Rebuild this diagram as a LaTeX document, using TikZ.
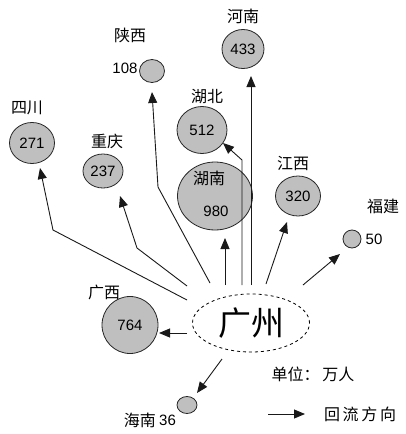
\documentclass[tikz,border=0pt]{standalone}
\usepackage{fontspec}
\setmainfont{Liberation Sans}
\newfontfamily\cjk{Noto Sans CJK SC}
\usetikzlibrary{shapes.geometric,arrows.meta}
\begin{document}
\begin{tikzpicture}[x=1pt,y=-1pt,
  city/.style={ellipse,draw=black!85,fill=gray!50,line width=0.8pt,inner sep=0pt,font=\fontsize{15}{15}\selectfont},
  lab/.style={font=\cjk\fontsize{16}{16}\selectfont,inner sep=0pt},
  num/.style={font=\fontsize{15}{15}\selectfont,inner sep=0pt},
  flow/.style={line width=0.9pt,draw=black!90,-{Triangle[length=11pt,width=9pt]}}]
\useasboundingbox (0,0) rectangle (406,434);
% cities
\node[city,minimum width=25,minimum height=23] (sx) at (152,71) {};
\node[lab] (sxl) at (130,35) {陕西};
\node[num] (sxn) at (125,68) {108};
\node[city,minimum width=42,minimum height=39] (hen) at (243,49) {433};
\node[lab] (henl) at (243,16) {河南};
\node[city,minimum width=45,minimum height=41] (sc) at (32,143) {271};
\node[lab] (scl) at (27,108) {四川};
\node[city,minimum width=40,minimum height=34] (cq) at (103,171) {237};
\node[lab] (cql) at (107,141) {重庆};
\node[city,minimum width=50,minimum height=47] (hb) at (202,130) {512};
\node[lab] (hbl) at (207,97) {湖北};
\node[city,minimum width=75,minimum height=68] (hn) at (215,196) {};
\node[lab] (hnl) at (209,178) {湖南};
\node[num] (hnn) at (216,211) {980};
\node[city,minimum width=45,minimum height=40] (jx) at (298,196) {320};
\node[lab] (jxl) at (293,163) {江西};
\node[city,minimum width=18,minimum height=18] (fj) at (352,239) {};
\node[lab] (fjl) at (383,206) {福建};
\node[num] (fjn) at (374,239) {50};
\node[city,minimum width=56,minimum height=57] (gx) at (130,325) {764};
\node[lab] (gxl) at (104,292) {广西};
\node[city,minimum width=20,minimum height=17] (hain) at (187,405) {};
\node[lab,anchor=east] (hainl) at (156,420) {海南};
\node[num,anchor=west] (hainn) at (159,420) {36};
% Guangzhou
\node[ellipse,draw=black,dashed,line width=0.8pt,fill=white,minimum width=117,minimum height=58,inner sep=0pt,font=\cjk\fontsize{33}{33}\selectfont] (gz) at (251,323) {广州};
% start points
\coordinate (s1) at (187,300);
\coordinate (s2) at (187,286);
\coordinate (s3) at (210,283);
\coordinate (s4) at (225,285);
\coordinate (s5) at (242,285);
\coordinate (s6) at (251,285);
\coordinate (s7) at (266,284);
\coordinate (s8) at (303,285);
\coordinate (s9) at (187,333);
\coordinate (s10) at (222,359);
% tips
\coordinate (t1) at (40,168);
\coordinate (t2) at (120,196);
\coordinate (t3) at (152,92);
\coordinate (t4) at (225,238);
\coordinate (t5) at (223,143);
\coordinate (t6) at (251,76);
\coordinate (t7) at (287,222);
\coordinate (t8) at (340,254);
\coordinate (t9) at (159,333);
\coordinate (t10) at (197,393);
\draw[flow] (s1) -- (53,230) -- (t1);
\draw[flow] (s2) -- (137,248) -- (t2);
\draw[flow] (s3) -- (158,187) -- (t3);
\draw[flow] (s4) -- (t4);
\draw[flow] (s5) -- (242,160) -- (t5);
\draw[flow] (s6) -- (t6);
\draw[flow] (s7) -- (t7);
\draw[flow] (s8) -- (t8);
\draw[flow] (s9) -- (t9);
\draw[flow] (s10) -- (t10);
% legend
\node[lab] (unit) at (313,374) {单位：\,万人};
\coordinate (la) at (268,414);
\coordinate (lb) at (305,414);
\draw[flow] (la) -- (lb);
\node[lab] (legl) at (360,414) {回\,流\,方\,向};
\end{tikzpicture}
\end{document}
